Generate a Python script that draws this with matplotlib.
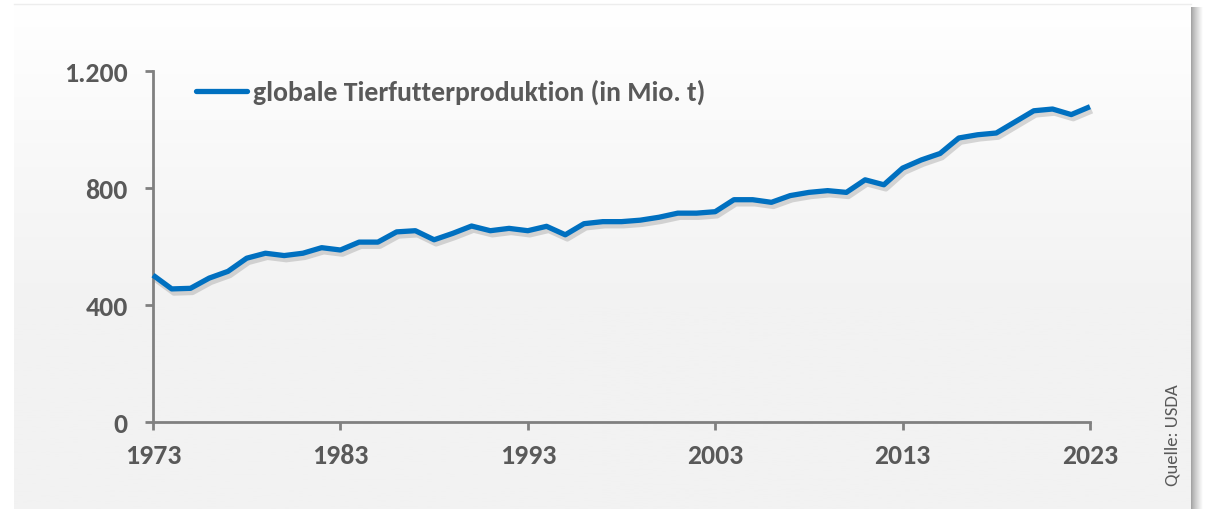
import numpy as np
import matplotlib
matplotlib.use("Agg")
import matplotlib.pyplot as plt
import matplotlib.patheffects as pe

# global animal feed production, million t
years = list(range(1973, 2024))
feed = [502, 455, 457, 492, 515, 560, 577, 569, 577, 596,
        588, 615, 615, 650, 654, 623, 645, 670, 654, 662,
        654, 669, 640, 678, 685, 685, 690, 700, 714, 714,
        719, 760, 760, 751, 774, 785, 791, 785, 828, 811,
        868, 896, 918, 971, 982, 988, 1026, 1064, 1070, 1051,
        1078]
xticks = [1973, 1983, 1993, 2003, 2013, 2023]
yticks = [0, 400, 800, 1200]
ytick_labels = ["0", "400", "800", "1.200"]
legend_label = "globale Tierfutterproduktion (in Mio. t)"
source = "Quelle: USDA"

W, H = 1209, 510
fig = plt.figure(figsize=(W / 100, H / 100), dpi=100)
fig.patch.set_facecolor("white")

# panel background with soft shadow on the right
bg = fig.add_axes([0, 0, 1, 1])
bg.set_xlim(0, W)
bg.set_ylim(H, 0)
bg.axis("off")
sh = np.linspace(0, 1, 50)
shade = np.ones((1, 50, 3))
for i in range(3):
    shade[0, :, i] = 0.62 + 0.38 * sh ** 0.8
bg.imshow(shade, extent=[1191, 1203, H, 8], aspect="auto", zorder=1)
grad = np.clip(np.linspace(0, 1, 300) / 0.6, 0, 1)
img = np.ones((300, 1, 3))
for i in range(3):
    img[:, 0, i] = 1.0 - grad * (1 - 0xf2 / 255)
bg.imshow(img, extent=[14, 1191, H, 4], aspect="auto", zorder=2)
bg.plot([14, 1191], [4.5, 4.5], color="#ededed", lw=1, zorder=3)

# main axes
x0, x1 = 153, 1090
y0, y1 = 423, 72
ax = fig.add_axes([x0 / W, 1 - y0 / H, (x1 - x0) / W, (y0 - y1) / H])
ax.patch.set_alpha(0)
ax.set_xlim(1973, 2023)
ax.set_ylim(0, 1200)

ax.plot(years, feed, color="#0070c0", lw=3.8, solid_capstyle="butt",
        clip_on=False, zorder=3,
        path_effects=[pe.SimpleLineShadow(offset=(1.5, -3), shadow_color="#808080", alpha=0.3),
                      pe.Normal()])

grey = "#808080"
for s in ["top", "right"]:
    ax.spines[s].set_visible(False)
for s in ["left", "bottom"]:
    ax.spines[s].set_color(grey)
    ax.spines[s].set_linewidth(2)
ax.set_xticks(xticks)
ax.set_yticks(yticks)
ax.set_yticklabels(ytick_labels)
ax.tick_params(axis="x", length=6, width=2, color=grey, pad=9)
ax.tick_params(axis="y", length=6, width=2, color=grey, pad=12)
for lab in ax.get_xticklabels() + ax.get_yticklabels():
    lab.set_family("Carlito")
    lab.set_fontweight("bold")
    lab.set_fontsize(20)
    lab.set_color("#595959")

# legend drawn by hand
ax.plot([1975.3, 1978.0], [1130, 1130], color="#0070c0", lw=3.8,
        solid_capstyle="round", clip_on=False)
ax.text(1978.35, 1130, legend_label, family="Carlito", fontweight="bold",
        fontsize=20, color="#595959", va="center", ha="left")

fig.text(1172 / W, 1 - 435 / H, source, rotation=90, family="Carlito",
         fontsize=13.5, color="#595959", ha="center", va="center")

fig.savefig("out.png", dpi=100)
